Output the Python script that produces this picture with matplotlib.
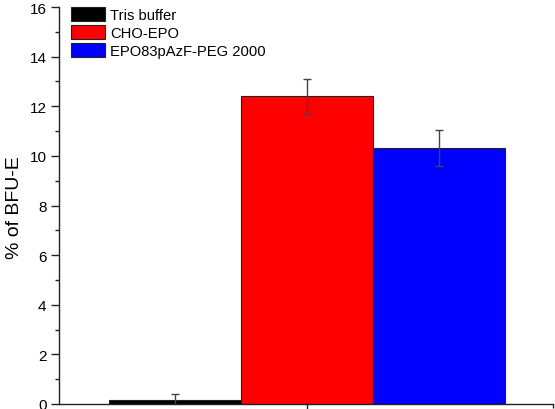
import matplotlib
matplotlib.use("Agg")
import matplotlib.pyplot as plt
from matplotlib.ticker import MultipleLocator, FixedLocator

plt.rcParams['font.family'] = ['Liberation Sans', 'DejaVu Sans']

categories = ["Tris buffer", "CHO-EPO", "EPO83pAzF-PEG 2000"]
values = [0.15, 12.4, 10.33]
errors = [0.25, 0.7, 0.73]
colors = ["#000000", "#FF0000", "#0000FF"]
positions = [1, 2, 3]

fig = plt.figure(figsize=(5.55, 4.1), dpi=100)
ax = fig.add_axes([59/555, 5/410, (553-59)/555, (405-8)/410])

for p, v, e, c, lab in zip(positions, values, errors, colors, categories):
    ax.bar(p, v, width=1.0, color=c, edgecolor="#222222", linewidth=0.8, label=lab)
    ax.errorbar(p, v, yerr=e, fmt='none', ecolor="#444444", elinewidth=1.0,
                capsize=3, capthick=1.0)

ax.set_xlim(0.12, 3.86)
ax.set_ylim(0, 16)
ax.xaxis.set_major_locator(FixedLocator([2]))
ax.xaxis.set_minor_locator(FixedLocator([3.86]))
ax.set_xticklabels([])
ax.yaxis.set_major_locator(MultipleLocator(2))
ax.yaxis.set_minor_locator(MultipleLocator(1))

for s in ["top", "right"]:
    ax.spines[s].set_visible(False)
for s in ["left", "bottom"]:
    ax.spines[s].set_linewidth(1.0)
    ax.spines[s].set_color("#222222")

ax.tick_params(axis='both', which='major', direction='out', length=6, width=1.0,
               colors="#222222", labelsize=11, labelcolor="black", pad=3)
ax.tick_params(axis='both', which='minor', direction='out', length=3, width=1.0,
               colors="#222222")

fig.text(15/555, 1 - 208/410, "% of BFU-E", rotation=90, fontsize=14,
         ha='center', va='center')

leg = ax.legend(loc='upper left', bbox_to_anchor=(12/494, 1.0), frameon=False,
                fontsize=10.6, handlelength=2.3, handleheight=1.1,
                labelspacing=0.2, handletextpad=0.35, borderpad=0.0,
                borderaxespad=0.0)

fig.savefig("out.png", dpi=100)
